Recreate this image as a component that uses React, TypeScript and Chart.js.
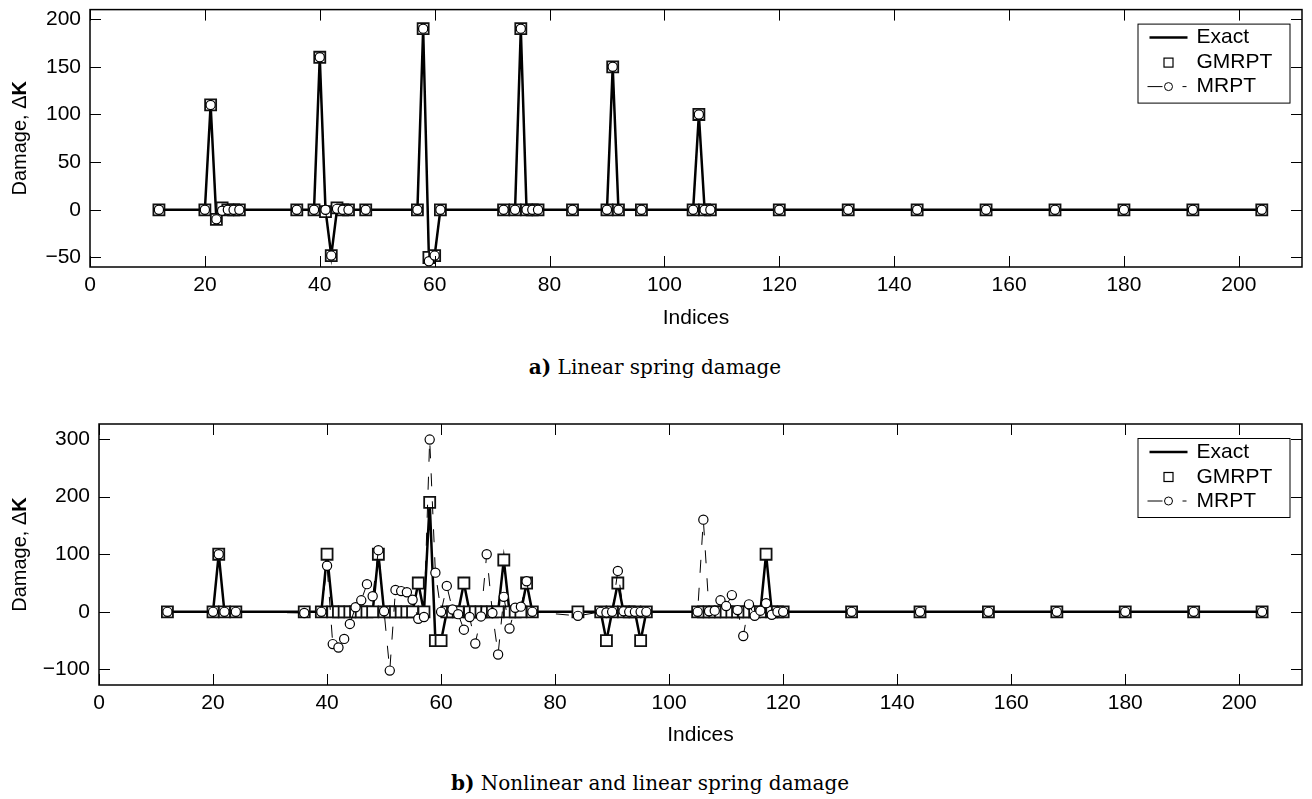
import React, { useEffect, useRef } from 'react';
import { Chart, registerables } from 'chart.js';

Chart.register(...registerables);

const X_MIN = 0;
const X_MAX = 211;
const xTickValues = [0, 20, 40, 60, 80, 100, 120, 140, 160, 180, 200];

// ---------- Panel a) Linear spring damage ----------
const indicesA = [12, 20, 21, 22, 23, 24, 25, 26, 36, 39, 40, 41, 42, 43, 44, 45, 48, 57, 58, 59, 60, 61, 72, 74, 75, 76, 77, 78, 84, 90, 91, 92, 96, 105, 106, 107, 108, 120, 132, 144, 156, 168, 180, 192, 204];
const exactA = [0, 0, 110, -10, 0, 0, 0, 0, 0, 0, 160, 0, -48, 0, 0, 0, 0, 0, 190, -50, -48, 0, 0, 0, 190, 0, 0, 0, 0, 0, 150, 0, 0, 0, 100, 0, 0, 0, 0, 0, 0, 0, 0, 0, 0];
const gmrptA = [0, 0, 110, -10, 2, 0, 0, 0, 0, 0, 160, -2, -48, 2, 0, 0, 0, 0, 190, -50, -48, 0, 0, 0, 190, 0, 0, 0, 0, 0, 150, 0, 0, 0, 100, 0, 0, 0, 0, 0, 0, 0, 0, 0, 0];
const mrptA = [0, 0, 110, -10, -1, 0, 0, 0, 0, 0, 160, 0, -48, 1, 0, 0, 0, 0, 190, -54, -48, 0, 0, 0, 190, 0, 0, 0, 0, 0, 150, 0, 0, 0, 100, 0, 0, 0, 0, 0, 0, 0, 0, 0, 0];
const yTicksA = [-50, 0, 50, 100, 150, 200];

// ---------- Panel b) Nonlinear and linear spring damage ----------
const indicesB = [12, 20, 21, 22, 24, 36, 39, 40, 41, 42, 43, 44, 45, 46, 47, 48, 49, 50, 51, 52, 53, 54, 55, 56, 57, 58, 59, 60, 61, 62, 63, 64, 65, 66, 67, 68, 69, 70, 71, 72, 73, 74, 75, 76, 84, 88, 89, 90, 91, 92, 93, 94, 95, 96, 105, 106, 107, 108, 109, 110, 111, 112, 113, 114, 115, 116, 117, 118, 119, 120, 132, 144, 156, 168, 180, 192, 204];
const exactB = [0, 0, 100, 0, 0, 0, 0, 100, 0, 0, 0, 0, 0, 0, 0, 0, 100, 0, 0, 0, 0, 0, 0, 50, 0, 190, -50, -50, 0, 0, 0, 50, 0, 0, 0, 0, 0, 0, 90, 0, 0, 0, 50, 0, 0, 0, -50, 0, 50, 0, 0, 0, -50, 0, 0, 0, 0, 0, 0, 0, 0, 0, 0, 0, 0, 0, 100, 0, 0, 0, 0, 0, 0, 0, 0, 0, 0];
const gmrptB = [0, 0, 100, 0, 0, 0, 0, 100, 0, 0, 0, 0, 0, 0, 0, 0, 100, 0, 0, 0, 0, 0, 0, 50, 0, 190, -50, -50, 0, 0, 0, 50, 0, 0, 0, 0, 0, 0, 90, 0, 0, 0, 50, 0, 0, 0, -50, 0, 50, 0, 0, 0, -50, 0, 0, 0, 0, 0, 0, 0, 0, 0, 0, 0, 0, 0, 100, 0, 0, 0, 0, 0, 0, 0, 0, 0, 0];
const mrptB = [0, 0, 100, 0, 0, -2, 0, 80, -56, -62, -47, -21, 8, 20, 48, 27, 107, 1, -102, 38, 36, 34, 21, -12, -9, 299, 68, 0, 45, 4, -4, -31, -9, -55, -8, 100, -2, -74, 26, -29, 7, 9, 53, 0, -7, 0, -1, 0, 71, 1, 0, 0, 0, 0, 0, 160, 1, 2, 20, 10, 29, 3, -42, 13, -7, 2, 15, -5, 0, 0, 0, 0, 0, 0, 0, 0, 0];
const yTicksB = [-100, 0, 100, 200, 300];

const SANS = '"Liberation Sans", Arial, Helvetica, sans-serif';
const TICK_FONT = { family: SANS, size: 21 };

function toPoints(xs: number[], ys: number[]) {
  return xs.map((x, i) => ({ x, y: ys[i] }));
}

function fmt(v: number) {
  return v < 0 ? '\u2212' + Math.abs(v) : String(v);
}

type PanelProps = {
  top: number;
  indices: number[];
  exact: number[];
  gmrpt: number[];
  mrpt: number[];
  yMin: number;
  yMax: number;
  yTicks: number[];
  yAxisWidth: number;
  padTop: number;
  xAxisHeight: number;
  xTitlePad: number;
};

const CANVAS_W = 1312;
const CANVAS_H = 340;

function Panel(props: PanelProps) {
  const ref = useRef<HTMLCanvasElement>(null);
  useEffect(() => {
    const canvas = ref.current!;
    const { indices, exact, gmrpt, mrpt, yMin, yMax, yTicks, yAxisWidth, padTop, xAxisHeight, xTitlePad } = props;

    const decor = {
      id: 'decor',
      afterDraw(chart: any) {
        const { ctx, chartArea } = chart;
        const { left, right, top, bottom } = chartArea;
        const xs = chart.scales.x;
        const ys = chart.scales.y;
        ctx.save();
        ctx.strokeStyle = '#000';
        ctx.lineWidth = 1;
        const TL = 11;
        ctx.beginPath();
        xTickValues.forEach((v) => {
          const p = Math.round(xs.getPixelForValue(v)) + 0.5;
          ctx.moveTo(p, bottom);
          ctx.lineTo(p, bottom - TL);
          ctx.moveTo(p, top);
          ctx.lineTo(p, top + TL);
        });
        yTicks.forEach((v) => {
          const p = Math.round(ys.getPixelForValue(v)) + 0.5;
          ctx.moveTo(left, p);
          ctx.lineTo(left + TL, p);
          ctx.moveTo(right, p);
          ctx.lineTo(right - TL, p);
        });
        ctx.stroke();
        ctx.lineWidth = 1.5;
        ctx.strokeRect(left, top, right - left, bottom - top);

        // y-axis title with bold K
        ctx.save();
        ctx.translate(20, (top + bottom) / 2);
        ctx.rotate(-Math.PI / 2);
        ctx.fillStyle = '#000';
        ctx.textBaseline = 'middle';
        ctx.textAlign = 'left';
        const f1 = `20px ${SANS}`;
        const f2 = `bold 20px ${SANS}`;
        ctx.font = f1;
        const w1 = ctx.measureText('Damage, \u0394').width;
        ctx.font = f2;
        const w2 = ctx.measureText('K').width;
        const start = -(w1 + w2) / 2;
        ctx.font = f1;
        ctx.fillText('Damage, \u0394', start, 0);
        ctx.font = f2;
        ctx.fillText('K', start + w1, 0);
        ctx.restore();

        // legend
        const BW = 152;
        const BH = 79;
        const L = right - 12.5 - BW;
        const T = top + 14;
        ctx.fillStyle = '#fff';
        ctx.fillRect(L, T, BW, BH);
        ctx.lineWidth = 1;
        ctx.strokeStyle = '#000';
        ctx.strokeRect(L + 0.5, T + 0.5, BW, BH);
        const rows = [T + 14, T + 39, T + 63];
        // Exact
        ctx.lineWidth = 2.5;
        ctx.beginPath();
        ctx.moveTo(L + 12, rows[0]);
        ctx.lineTo(L + 50, rows[0]);
        ctx.stroke();
        // GMRPT
        ctx.lineWidth = 1.2;
        ctx.fillStyle = '#fff';
        ctx.fillRect(L + 26.5, rows[1] - 4.5, 9, 9);
        ctx.strokeRect(L + 26.5, rows[1] - 4.5, 9, 9);
        // MRPT
        ctx.lineWidth = 1;
        ctx.beginPath();
        ctx.moveTo(L + 10, rows[2]);
        ctx.lineTo(L + 25, rows[2]);
        ctx.moveTo(L + 45, rows[2]);
        ctx.lineTo(L + 49, rows[2]);
        ctx.stroke();
        ctx.beginPath();
        ctx.arc(L + 31, rows[2], 4, 0, Math.PI * 2);
        ctx.fillStyle = '#fff';
        ctx.fill();
        ctx.stroke();
        ctx.fillStyle = '#000';
        ctx.font = `21px ${SANS}`;
        ctx.textBaseline = 'middle';
        ctx.textAlign = 'left';
        ctx.fillText('Exact', L + 59, rows[0]);
        ctx.fillText('GMRPT', L + 59, rows[1]);
        ctx.fillText('MRPT', L + 59, rows[2]);
        ctx.restore();
      },
    };

    const chart = new Chart(canvas, {
      type: 'scatter',
      data: {
        datasets: [
          {
            label: 'Exact',
            data: toPoints(indices, exact),
            showLine: true,
            borderColor: '#000',
            backgroundColor: '#000',
            borderWidth: 2.5,
            pointRadius: 0,
            order: 3,
          },
          {
            label: 'GMRPT',
            data: toPoints(indices, gmrpt),
            showLine: false,
            pointStyle: 'rect',
            pointRadius: 7.8,
            pointBorderWidth: 1.8,
            pointBorderColor: '#111',
            pointBackgroundColor: '#fff',
            order: 2,
          },
          {
            label: 'MRPT',
            data: toPoints(indices, mrpt),
            showLine: true,
            borderColor: '#000',
            borderWidth: 1,
            borderDash: [13, 15],
            pointStyle: 'circle',
            pointRadius: 4.6,
            pointBorderWidth: 1.2,
            pointBorderColor: '#000',
            pointBackgroundColor: '#fff',
            order: 1,
          },
        ] as any,
      },
      options: {
        responsive: false,
        animation: false,
        events: [],
        layout: { padding: { top: padTop, right: 10, left: 0, bottom: 0 } },
        plugins: {
          legend: { display: false },
          tooltip: { enabled: false },
          title: { display: false },
        },
        scales: {
          x: {
            type: 'linear',
            position: 'bottom',
            min: X_MIN,
            max: X_MAX,
            grid: { display: false, drawTicks: false },
            border: { display: false },
            ticks: {
              font: TICK_FONT,
              color: '#000',
              padding: 6,
              maxRotation: 0,
              autoSkip: false,
              callback: (v: any) => fmt(Number(v)),
            },
            title: {
              display: true,
              text: 'Indices',
              font: TICK_FONT,
              color: '#000',
              padding: { top: 0, bottom: xTitlePad },
            },
            afterBuildTicks: (s: any) => {
              s.ticks = xTickValues.map((v) => ({ value: v }));
            },
            afterFit: (s: any) => {
              s.height = xAxisHeight;
              s.paddingLeft = 0;
              s.paddingRight = 0;
              s.paddingTop = 0;
              s.paddingBottom = 0;
            },
          },
          y: {
            type: 'linear',
            position: 'left',
            min: yMin,
            max: yMax,
            grid: { display: false, drawTicks: false },
            border: { display: false },
            ticks: {
              font: TICK_FONT,
              color: '#000',
              padding: 9,
              autoSkip: false,
              callback: (v: any) => fmt(Number(v)),
            },
            afterBuildTicks: (s: any) => {
              s.ticks = yTicks.map((v) => ({ value: v }));
            },
            afterFit: (s: any) => {
              s.width = yAxisWidth;
              s.paddingLeft = 0;
              s.paddingRight = 0;
              s.paddingTop = 0;
              s.paddingBottom = 0;
            },
          },
        },
      } as any,
      plugins: [decor],
    });
    return () => chart.destroy();
  }, []);

  return (
    <canvas
      ref={ref}
      width={CANVAS_W}
      height={CANVAS_H}
      style={{ position: 'absolute', left: 0, top: props.top, width: CANVAS_W, height: CANVAS_H }}
    />
  );
}

const captionStyle: React.CSSProperties = {
  position: 'absolute',
  transform: 'translate(-50%, -50%)',
  fontFamily: '"DejaVu Serif", "Liberation Serif", serif',
  fontSize: 20,
  whiteSpace: 'nowrap',
  color: '#000',
  lineHeight: 1,
};

export default function App() {
  return (
    <div style={{ position: 'absolute', left: 0, top: 0, width: 1312, height: 799, background: '#fff', overflow: 'hidden' }}>
      <Panel
        top={0}
        indices={indicesA}
        exact={exactA}
        gmrpt={gmrptA}
        mrpt={mrptA}
        yMin={-60}
        yMax={210}
        yTicks={yTicksA}
        yAxisWidth={90}
        padTop={5}
        xAxisHeight={73}
        xTitlePad={9}
      />
      <div style={{ ...captionStyle, left: 655, top: 367 }}>
        <b>a)</b> Linear spring damage
      </div>
      <Panel
        top={414}
        indices={indicesB}
        exact={exactB}
        gmrpt={gmrptB}
        mrpt={mrptB}
        yMin={-127}
        yMax={326}
        yTicks={yTicksB}
        yAxisWidth={99}
        padTop={10}
        xAxisHeight={69}
        xTitlePad={6}
      />
      <div style={{ ...captionStyle, left: 650, top: 783 }}>
        <b>b)</b> Nonlinear and linear spring damage
      </div>
    </div>
  );
}
